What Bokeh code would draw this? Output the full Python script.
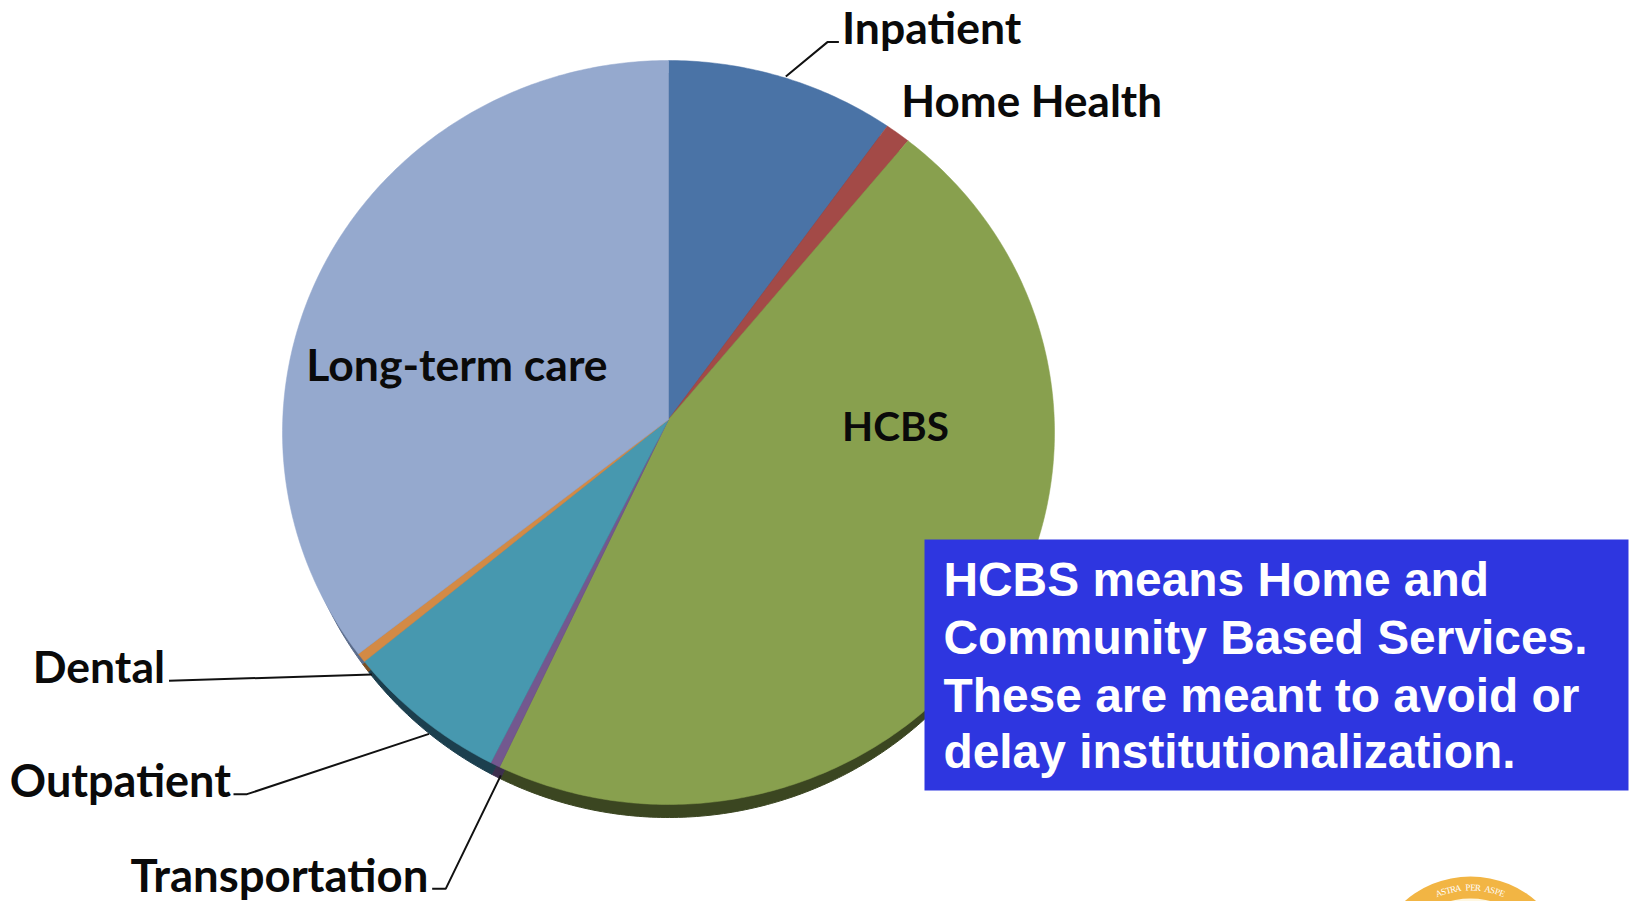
import math
from bokeh.plotting import figure
from bokeh.models import Range1d
from bokeh.core.properties import value
from bokeh.embed import file_html
from bokeh.resources import INLINE

categories = ["Inpatient", "Home Health", "HCBS", "Transportation", "Outpatient", "Dental", "Long-term care"]
shares = [10.2, 1.1, 45.9, 0.4, 6.7, 0.4, 35.3]
face_colors = ["#4A73A6", "#A34A47", "#88A04E", "#73588F", "#4798AF", "#D38A45", "#95A9CE"]
side_colors = ["#2C4563", "#622C2A", "#3B4621", "#3D2F4E", "#1C3F4E", "#7A4F25", "#5A6B8A"]

S = 1631 / 1568
W, H = 1631, 901
p = figure(width=W, height=H, output_backend="svg", toolbar_location=None,
           x_range=Range1d(0, W), y_range=Range1d(H, 0), min_border=0,
           background_fill_color="white", border_fill_color="white")
p.axis.visible = False
p.grid.visible = False
p.outline_line_color = None

APEX = (668, 419)
ELL = (668, 432, 386, 372)
RIM = (668, 445, 378, 372)

def hit(deg, ell, apex):
    cx, cy, rx, ry = ell
    dx, dy = math.sin(math.radians(deg)), -math.cos(math.radians(deg))
    ox, oy = apex[0] - cx, apex[1] - cy
    a = (dx / rx) ** 2 + (dy / ry) ** 2
    b = 2 * (ox * dx / rx ** 2 + oy * dy / ry ** 2)
    c = (ox / rx) ** 2 + (oy / ry) ** 2 - 1
    t = (-b + math.sqrt(b * b - 4 * a * c)) / (2 * a)
    return apex[0] + t * dx, apex[1] + t * dy

def slice_poly(start, end, ell, apex):
    n = max(2, int((end - start) * 1.5))
    pts = [hit(start + (end - start) * i / n, ell, apex) for i in range(n + 1)]
    return [apex[0]] + [q[0] for q in pts], [apex[1]] + [q[1] for q in pts]

edges = [0.0]
for s in shares:
    edges.append(edges[-1] + s * 3.6 * 100 / sum(shares))

rim_apex = (APEX[0], APEX[1] + 13)
for i in range(len(shares)):
    xs, ys = slice_poly(edges[i], edges[i + 1], RIM, rim_apex)
    p.patch(xs, ys, fill_color=side_colors[i], line_color=side_colors[i], line_width=1)
for i in range(len(shares)):
    xs, ys = slice_poly(edges[i], edges[i + 1], ELL, APEX)
    p.patch(xs, ys, fill_color=face_colors[i], line_color=face_colors[i], line_width=0.5)

leaders = [
    ([755, 795, 806], [73, 40, 40]),
    ([357, 162], [648, 654]),
    ([412, 237, 224], [705, 763, 763]),
    ([481, 428, 415], [745, 854, 854]),
]
for lx, ly in leaders:
    p.line([v * S for v in lx], [v * S for v in ly], line_color="#111111", line_width=2)

label_x = [809, 866, 809, 125, 9, 31, 294]
label_y = [25.2, 96, 409, 840, 749, 639, 349]
label_px = [44.5, 44, 40.5, 45.5, 45, 44.5, 44.5]
for t, x, y, px in zip(categories, label_x, label_y, label_px):
    p.text([x * S], [y * S], text=[t], text_font=value("Lato"), text_font_style="bold",
           text_font_size=f"{px}px", text_color="#0A0A0A", text_baseline="middle", text_align="left")

p.quad(left=[924], right=[1628], top=[539], bottom=[790], fill_color="#2E36E0", line_color=None)
note = ["HCBS means Home and", "Community Based Services.", "These are meant to avoid or", "delay institutionalization."]
note_y = [557, 612, 668, 722]
for t, y in zip(note, note_y):
    p.text([906.5 * S], [y * S], text=[t], text_font=value("Liberation Sans"), text_font_style="bold",
           text_font_size="47.9px", text_color="white", text_baseline="middle", text_align="left")

# seal at the bottom edge
sx, sy = 1470, 976
p.circle([sx], [sy], radius=100, fill_color="#F2B544", line_color=None)
p.circle([sx], [sy], radius=78, fill_color="#FFF7E0", line_color=None)
motto = "ASTRA PER ASPE"
for i, ch in enumerate(motto):
    a = (i - (len(motto) - 1) / 2) * 0.056
    p.text([sx + 89 * math.sin(a)], [sy - 89 * math.cos(a)], text=[ch], angle=[-a], angle_units="rad",
           text_font=value("Liberation Serif"), text_font_size="9px", text_color="white",
           text_align="center", text_baseline="middle")

open("out.html", "w").write(file_html(p, INLINE))
